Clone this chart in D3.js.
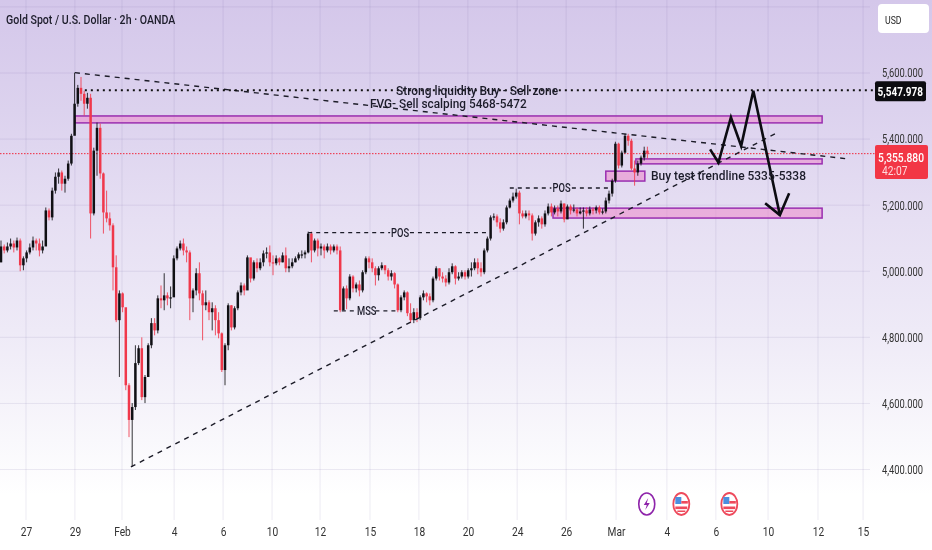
<!DOCTYPE html>
<html><head><meta charset="utf-8">
<script src="https://cdn.jsdelivr.net/npm/d3@7"></script>
<style>html,body{margin:0;padding:0;background:#fff;overflow:hidden}svg{display:block;filter:blur(0.3px)}text{font-family:Roboto,sans-serif}</style>
</head><body><svg id="c" width="932" height="550"></svg>
<script>
const firstOpen = 5027;
const closes = [
5075,5063,5075,5084,5072,5093,5018,5039,5057,5072,
5093,5084,5063,5075,5184,5163,5244,5286,5299,5265,
5280,5326,5410,5507,5555,5537,5507,5525,5175,5365,
5434,5296,5178,5160,5139,5012,4852,4933,4891,4655,
4550,4589,4722,4767,4619,4680,4776,4843,4821,4918,
4912,4927,4918,4921,5039,5069,5084,5063,5057,4918,
4942,4994,4933,4897,4906,4876,4888,4852,4812,4701,
4776,4897,4830,4888,4936,4957,4942,5042,4978,5027,
5009,5027,5054,5057,5027,5024,5039,5027,5048,5009,
5015,5027,5039,5051,5051,5057,5114,5063,5093,5069,
5075,5063,5075,5063,5075,5063,4882,4948,4918,4984,
4948,4960,4942,4997,5039,5027,5009,4988,5009,5018,
5003,4984,4994,4960,4882,4921,4936,4873,4852,4876,
4858,4921,4933,4924,4912,4978,5009,4984,4978,4966,
4997,5015,4978,4984,4997,4984,5003,5009,5027,5009,
4997,5063,5099,5163,5166,5148,5129,5148,5193,5214,
5226,5238,5175,5166,5175,5169,5114,5148,5160,5142,
5175,5196,5178,5190,5181,5205,5157,5196,5184,5187,
5175,5181,5184,5175,5187,5184,5193,5178,5181,5214,
5235,5274,5386,5320,5359,5410,5395,5311,5299,5326,5344,5365,5356];
const highs = [
5093,5081,5087,5099,5093,5102,5099,5045,5063,5084,
5105,5099,5099,5093,5193,5190,5253,5299,5311,5305,
5289,5335,5416,5601,5564,5588,5546,5540,5537,5374,
5450,5447,5299,5244,5178,5145,5048,4942,4936,4882,
4661,4601,4776,4776,4800,4686,4782,4858,4858,4927,
4957,4994,4936,4954,5048,5075,5093,5099,5075,5063,
4948,5009,5027,4942,4942,4912,4906,4897,4876,4815,
4782,4903,4897,4894,4942,4966,4963,5048,5039,5033,
5039,5039,5063,5072,5078,5048,5048,5042,5057,5072,
5039,5039,5045,5057,5063,5063,5120,5120,5099,5099,
5084,5081,5084,5081,5081,5081,5075,4954,4957,4991,
4988,4966,4972,5003,5045,5045,5039,5015,5015,5027,
5018,5009,5003,4997,4963,4927,4942,4939,4903,4888,
4888,4927,4942,4936,4933,4984,5015,5009,4997,4988,
5009,5024,5018,4997,5003,5003,5009,5027,5039,5039,
5027,5069,5105,5169,5175,5172,5160,5157,5199,5220,
5238,5250,5244,5184,5184,5184,5175,5154,5169,5166,
5184,5205,5205,5199,5199,5214,5205,5202,5202,5202,
5193,5193,5193,5193,5196,5193,5199,5199,5190,5223,
5244,5280,5392,5389,5365,5416,5416,5401,5335,5335,5350,5377,5377];
const lows = [
5027,5054,5057,5066,5057,5063,5000,5003,5027,5051,
5063,5063,5045,5054,5093,5154,5154,5235,5265,5244,
5238,5274,5320,5425,5498,5516,5471,5492,5099,5169,
5289,5280,5114,5148,5123,4942,4846,4680,4876,4640,
4498,4408,4580,4716,4610,4601,4695,4767,4806,4812,
4888,4882,4897,4888,4936,5033,5063,5048,5027,4852,
4876,4927,4912,4791,4882,4852,4821,4806,4797,4695,
4655,4761,4821,4824,4882,4927,4927,4966,4966,4972,
4997,5003,5015,5039,5015,4988,5018,5018,5027,4997,
4997,5009,5027,5033,5039,5039,5054,5027,5057,5045,
5048,5039,5057,5051,5057,5051,4876,4912,4885,4912,
4936,4936,4924,4936,4991,5009,4997,4957,4972,5003,
4991,4972,4972,4948,4876,4876,4912,4864,4843,4843,
4846,4852,4912,4906,4897,4906,4972,4972,4966,4954,
4960,4991,4960,4972,4978,4975,4978,4984,5003,4991,
4984,4991,5057,5093,5154,5135,5117,5123,5142,5190,
5208,5220,5142,5160,5160,5154,5093,5108,5135,5129,
5135,5169,5166,5172,5166,5175,5148,5172,5172,5178,
5166,5172,5129,5166,5169,5172,5175,5172,5172,5175,
5205,5226,5268,5311,5314,5356,5380,5305,5259,5289,5320,5335,5341];
const opens = closes.map((c,i)=> i===0 ? firstOpen : closes[i-1]);

const priceTicks = [5800,5600,5400,5200,5000,4800,4600,4400];
const shownPriceTicks = [5600,5400,5200,5000,4800,4600,4400];
const dateBars = [7.8,23.1,37.8,54.1,69.4,84.7,99.7,115.3,130.6,145.9,161.3,176.6,192.2,208.1,223.4,239.7,255.3,269.4];
const dateLabels = ["27","29","Feb","4","6","10","12","15","18","20","24","26","Mar","4","6","10","12","15"];

const liveLevel = 5547.978, lastPrice = 5355.88;
const zones = [[23.1,256.6,5470,5449],[198.4,256.6,5340,5325],[189,201.2,5303,5273],[172.5,256.6,5191,5161]];
const trendLines = [[[23.1,5601],[264.7,5340]],[[40.6,4408],[241.9,5416]]];
const structureLines = [
 [[96,5117],[121.6,5117]],[[127.8,5117],[152.8,5117]],
 [[159,5252],[172,5252]],[[178.4,5252],[190.5,5252]],
 [[104,4880],[111.5,4880]],[[117,4880],[124,4880]]];
const structureLabels = [[124.7,5117,"POS"],[175.2,5252,"POS"],[114.3,4880,"MSS"]];
const projection = [[221.6,5369],[224.2,5329],[228.1,5466],[231.3,5379],[235.1,5546],[243.4,5170]];
const projectionHead = [[238.8,5206],[243.4,5170],[246.3,5236]];
const eventBolt = [201.8], eventFlags = [212.6,227.6];

const svg = d3.select("#c");
const x = d3.scaleLinear().domain([0,202]).range([1,647.4]);
const y = d3.scaleLinear().domain([5600,4400]).range([73,469.5]);
const plotRight = 876;

const defs = svg.append("defs");
const lg = defs.append("linearGradient").attr("id","bg").attr("x1",0).attr("y1",0).attr("x2",0).attr("y2",1);
[[0,"#d4c7ea"],[.2,"#dcd2ee"],[.4,"#e6dff3"],[.6,"#eeeaf7"],[.8,"#f9f8fc"],[.9,"#ffffff"],[1,"#ffffff"]]
 .forEach(s=>lg.append("stop").attr("offset",s[0]).attr("stop-color",s[1]));
svg.append("rect").attr("width",932).attr("height",550).attr("fill","url(#bg)");

// grid
const grid = svg.append("g").attr("stroke","#6a5a9a").attr("stroke-opacity",.12).attr("stroke-width",1);
priceTicks.forEach(p=>grid.append("line").attr("x1",0).attr("x2",plotRight-6).attr("y1",y(p)).attr("y2",y(p)));
dateBars.forEach(b=>grid.append("line").attr("x1",x(b)).attr("x2",x(b)).attr("y1",0).attr("y2",520));

// price line
svg.append("line").attr("x1",0).attr("x2",plotRight).attr("y1",y(lastPrice)).attr("y2",y(lastPrice))
 .attr("stroke","#f0283c").attr("stroke-width",1).attr("stroke-dasharray","1.5,1.5");

// zones
svg.append("g").selectAll("rect").data(zones).join("rect")
 .attr("x",d=>x(d[0])).attr("width",d=>x(d[1])-x(d[0]))
 .attr("y",d=>y(d[2])).attr("height",d=>y(d[3])-y(d[2]))
 .attr("fill","#ec8ccb").attr("fill-opacity",.58).attr("stroke","#9a2fb0").attr("stroke-width",1.5);

// candles
const up = "#101014", down = "#f0384b";
const idx = d3.range(closes.length);
const cg = svg.append("g");
cg.selectAll("line").data(idx).join("line")
 .attr("x1",i=>x(i)).attr("x2",i=>x(i)).attr("y1",i=>y(highs[i])).attr("y2",i=>y(lows[i]))
 .attr("stroke",i=>closes[i]>=opens[i]?up:down).attr("stroke-width",1).attr("stroke-opacity",.85);
cg.selectAll("rect").data(idx).join("rect")
 .attr("x",i=>x(i)-1.25).attr("width",2.5)
 .attr("y",i=>y(Math.max(opens[i],closes[i])))
 .attr("height",i=>Math.max(1.2,Math.abs(y(opens[i])-y(closes[i]))))
 .attr("fill",i=>closes[i]>=opens[i]?up:down);

// lines
const ln = d3.line().x(d=>x(d[0])).y(d=>y(d[1]));
svg.append("g").selectAll("path").data(trendLines).join("path").attr("d",ln)
 .attr("fill","none").attr("stroke","#1c1c28").attr("stroke-width",1.4).attr("stroke-dasharray","5,5");
svg.append("g").selectAll("path").data(structureLines).join("path").attr("d",ln)
 .attr("fill","none").attr("stroke","#1c1c28").attr("stroke-width",1.3).attr("stroke-dasharray","4,4");
svg.append("line").attr("x1",x(26.2)).attr("x2",plotRight).attr("y1",y(liveLevel)).attr("y2",y(liveLevel))
 .attr("stroke","#111").attr("stroke-width",2).attr("stroke-dasharray","2,4");
[projection,projectionHead].forEach(p=>svg.append("path").attr("d",ln(p)).attr("fill","none")
 .attr("stroke","#0c0c12").attr("stroke-width",2.6).attr("stroke-linejoin","miter"));

// labels are narrowed horizontally with a scale, as the reference's glyphs are
function label(px,py,t,size,sx,anchor,fill,weight){
 return svg.append("text").attr("transform",`translate(${px},${py}) scale(${sx},1)`).attr("dy","0.35em")
  .attr("font-size",size).attr("fill",fill||"#1c1c2a").attr("font-weight",weight||500)
  .attr("text-anchor",anchor||"start").text(t);
}
label(6,19,"Gold Spot / U.S. Dollar · 2h · OANDA",13,.815);
label(396,90,"Strong liquidity Buy - Sell zone",13,.92);
label(370,103,"FVG- Sell scalping  5468-5472",13,.91);
label(651,175,"Buy test trendline 5335-5338",13,.92);
structureLabels.forEach(d=>label(x(d[0]),y(d[1]),d[2],12,.78,"middle"));

// axes
const ax = svg.append("g").call(
  d3.axisRight(y).tickValues(shownPriceTicks).tickFormat(d3.format(",.3f")).tickSize(0));
ax.select(".domain").remove();
ax.attr("font-family",null);
ax.selectAll("text").attr("x",0).attr("transform","translate(923,0) scale(.78,1)")
  .attr("text-anchor","end").attr("font-size",12).attr("fill","#333");
const bx = svg.append("g").attr("transform","translate(0,524)").call(
  d3.axisBottom(x).tickValues(dateBars).tickFormat((d,i)=>dateLabels[i]).tickSize(0));
bx.select(".domain").remove();
bx.attr("font-family",null);
bx.selectAll("text").attr("font-size",12).attr("fill","#333").attr("transform","scale(1,1)");
bx.selectAll(".tick text").attr("transform","scale(.85,1)");

// tags
svg.append("rect").attr("x",875).attr("y",y(liveLevel)-9).attr("width",51).attr("height",20).attr("rx",2).attr("fill","#0c0c10");
label(923,y(liveLevel)+1,d3.format(",.3f")(liveLevel),12.5,.8,"end","#fff",700);
svg.append("rect").attr("x",875).attr("y",145).attr("width",53).attr("height",34).attr("rx",2).attr("fill","#f23645");
label(924,158,d3.format(",.3f")(lastPrice),12.5,.82,"end","#fff",500);
label(882,171,"42:07",12,.85,"start","#ffd9dd",400);

// USD button
svg.append("rect").attr("x",878).attr("y",4).attr("width",51).attr("height",29).attr("rx",4).attr("fill","#fff");
label(885,20,"USD",11.5,.76,"start","#222",400);

// event icons
const ev = svg.append("g").attr("transform","translate(0,504)");
eventBolt.forEach(b=>{
 const g=ev.append("g").attr("transform",`translate(${x(b)},0)`);
 g.append("ellipse").attr("rx",8).attr("ry",11).attr("fill","#fff").attr("stroke","#8e24aa").attr("stroke-width",1.6);
 g.append("path").attr("d","M1.5,-6 L-3,1 L0,1 L-1.5,6 L3,-1 L0,-1 Z").attr("fill","#8e24aa");
});
eventFlags.forEach(b=>{
 const g=ev.append("g").attr("transform",`translate(${x(b)},0)`);
 g.append("ellipse").attr("rx",8).attr("ry",11).attr("fill","#fff").attr("stroke","#ee4a5c").attr("stroke-width",1.8);
 g.append("rect").attr("x",-6).attr("y",-7).attr("width",6).attr("height",7).attr("fill","#4a8fe0");
 g.append("rect").attr("x",0).attr("y",-3).attr("width",6.5).attr("height",2.6).attr("fill","#ee4a5c");
 g.append("rect").attr("x",-6).attr("y",2.5).attr("width",12).attr("height",2.6).attr("fill","#ee4a5c");
 g.append("rect").attr("x",-4).attr("y",6.5).attr("width",8).attr("height",1.5).attr("fill","#ee4a5c");
});
</script></body></html>
